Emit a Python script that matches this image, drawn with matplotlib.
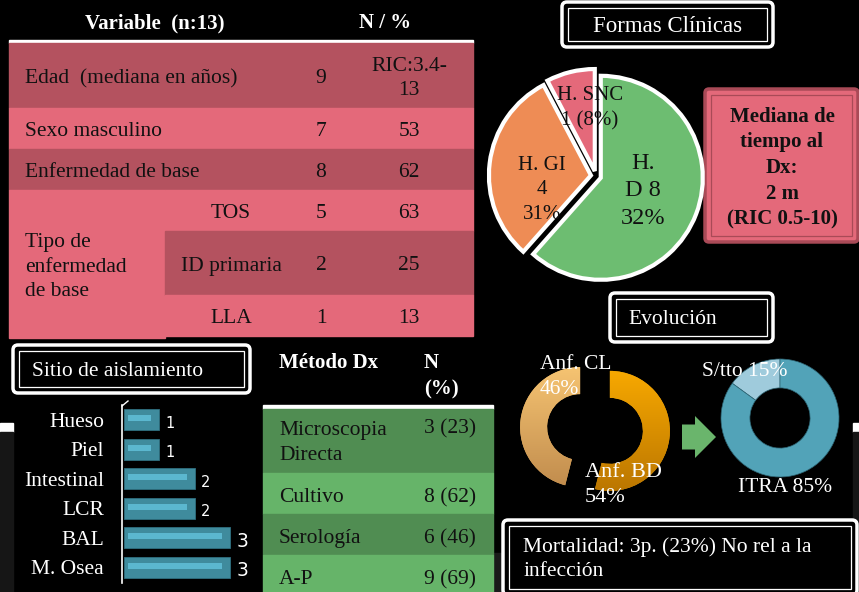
import numpy as np
import matplotlib.pyplot as plt
from matplotlib.patches import Rectangle, FancyBboxPatch, FancyArrow
from matplotlib.colors import LinearSegmentedColormap

plt.rcParams['font.family'] = ['Liberation Serif', 'DejaVu Serif']

# ---- data ----
var_labels = ['Edad  (mediana en años)', 'Sexo masculino', 'Enfermedad de base']
var_n = ['9', '7', '8']
var_pct = ['RIC:3.4-\n13', '53', '62']
base_group = 'Tipo de\nenfermedad\nde base'
base_labels = ['TOS', 'ID primaria', 'LLA']
base_n = [5, 2, 1]
base_pct = [63, 25, 13]

forms_labels = ['H.\nD 8\n32%', 'H. GI\n4\n31%', 'H. SNC\n1 (8%)']
forms_counts = [8, 4, 1]

sites = ['Hueso', 'Piel', 'Intestinal', 'LCR', 'BAL', 'M. Osea']
site_counts = [1, 1, 2, 2, 3, 3]

methods = ['Microscopia\nDirecta', 'Cultivo', 'Serología', 'A-P']
method_n = [3, 8, 6, 9]
method_pct = [23, 62, 46, 69]

induction = ['Anf. CL', 'Anf. BD']
induction_pct = [46, 54]
maintenance = ['S/tto', 'ITRA']
maintenance_pct = [15, 85]

# colours
rose_dark = '#b4525f'
rose_light = '#e4697a'
green_dark = '#508d52'
green_light = '#66b469'

W, H = 859, 592
fig = plt.figure(figsize=(W / 100, H / 100), dpi=100, facecolor='black')


def px_rect(x0, y0, x1, y1):
    return [x0 / W, 1 - y1 / H, (x1 - x0) / W, (y1 - y0) / H]


def pixel_axes(zorder=0):
    a = fig.add_axes([0, 0, 1, 1])
    a.set_xlim(0, W)
    a.set_ylim(H, 0)
    a.axis('off')
    a.patch.set_alpha(0)
    a.set_zorder(zorder)
    return a


ax = pixel_axes(0)
top = pixel_axes(10)


def label(x, y, s, dy=3, **kw):
    kw.setdefault('va', 'center')
    kw.setdefault('linespacing', 1.4)
    kw.setdefault('fontsize', 15.5)
    kw.setdefault('color', '#111')
    top.text(x, y + dy, s, **kw)


# background leftovers of the slide
ax.add_patch(Rectangle((0, 423), 13, 9, color='white'))
ax.add_patch(Rectangle((0, 432), 13, 160, color='#161616'))
ax.add_patch(Rectangle((853, 423), 6, 9, color='white'))
ax.add_patch(Rectangle((853, 432), 6, 160, color='#161616'))
ax.add_patch(Rectangle((493, 553), 10, 39, color='#1a1a1a'))


def double_box(x0, y0, x1, y1, face='black', edge='white', inset=6):
    ax.add_patch(FancyBboxPatch((x0, y0), x1 - x0, y1 - y0,
                                boxstyle='round,pad=0,rounding_size=5',
                                facecolor=face, edgecolor=edge, lw=2.5))
    ax.add_patch(Rectangle((x0 + inset, y0 + inset), x1 - x0 - 2 * inset,
                           y1 - y0 - 2 * inset, fill=False, edgecolor=edge, lw=0.9))


# ---- table 1 ----
tx0, tx1, tsub = 9, 473, 165
x_n, x_pct = 321, 409
label(155, 20, 'Variable  (n:13)', color='white', fontsize=15, fontweight='bold', ha='center')
label(385, 20, 'N / %', color='white', fontsize=15, fontweight='bold', ha='center')
ax.add_patch(Rectangle((tx0, 40), tx1 - tx0, 3, color='white'))
row_edges = [43, 108, 149, 190, 231, 295, 336]
for i, lab in enumerate(var_labels):
    y0, y1 = row_edges[i], row_edges[i + 1]
    ax.add_patch(Rectangle((tx0, y0), tx1 - tx0, y1 - y0,
                           color=rose_dark if i % 2 == 0 else rose_light))
    yc = (y0 + y1) / 2
    label(25, yc, lab)
    label(x_n, yc, var_n[i], ha='center')
    label(x_pct, yc, var_pct[i], ha='center')
ax.add_patch(Rectangle((tx0, row_edges[3]), tsub - tx0, row_edges[6] - row_edges[3] + 2,
                       color=rose_light))
for j, lab in enumerate(base_labels):
    y0, y1 = row_edges[3 + j], row_edges[4 + j]
    ax.add_patch(Rectangle((tsub, y0), tx1 - tsub, y1 - y0,
                           color=rose_dark if j == 1 else rose_light))
    yc = (y0 + y1) / 2
    label(231, yc, lab, ha='center')
    label(x_n, yc, str(base_n[j]), ha='center')
    label(x_pct, yc, str(base_pct[j]), ha='center')
label(25, 264, base_group, linespacing=1.38)

# ---- Formas Clinicas pie ----
double_box(562, 2, 773, 47)
label(668, 23, 'Formas Clínicas', color='white', fontsize=16.5, ha='center')

R = 102
cx, cy = 596, 176
pa = fig.add_axes(px_rect(cx - 1.3 * R, cy - 1.3 * R, cx + 1.3 * R, cy + 1.3 * R))
pa.set_zorder(5)
pa.pie(forms_counts, startangle=90, counterclock=False,
       colors=['#6dbd71', '#ee8c55', rose_light], explode=[0.05, 0.05, 0.05],
       wedgeprops=dict(edgecolor='white', linewidth=3))
pa.set_xlim(-1.3, 1.3)
pa.set_ylim(-1.3, 1.3)
pa.set_aspect('equal')
pa.axis('off')
label(643, 188, forms_labels[0], fontsize=17.5, ha='center', linespacing=1.42)
label(542, 187, forms_labels[1], fontsize=15, ha='center', linespacing=1.42)
label(590, 105, forms_labels[2], fontsize=15, ha='center', linespacing=1.45)

# ---- Mediana box ----
ax.add_patch(FancyBboxPatch((705, 89), 153, 153, boxstyle='round,pad=0,rounding_size=4',
                            facecolor=rose_light, edgecolor='#a94a57', lw=2.5))
ax.add_patch(Rectangle((711, 95), 141, 141, fill=False, edgecolor='#a94a57', lw=0.9))
label(782, 165, 'Mediana de\ntiempo al\nDx:\n2 m\n(RIC 0.5-10)', fontsize=15,
      fontweight='bold', ha='center', linespacing=1.37)

# ---- Evolucion title ----
double_box(610, 293, 773, 342)
label(628, 316, 'Evolución', color='white')

# ---- Sitio de aislamiento ----
double_box(13, 345, 250, 393)
label(32, 369, 'Sitio de aislamiento', color='white')

ba = fig.add_axes(px_rect(122, 405, 260, 582))
ba.set_zorder(5)
ba.patch.set_alpha(0)
yy = np.arange(len(sites))
vals = np.array(site_counts)
ba.barh(yy, vals, left=0, height=0.72, color='#3f8b9d', edgecolor='#2f6f80', lw=0.6)
ba.barh(yy - 0.05, vals - 0.35, left=0.12, height=0.2, color='#5bb7cf')
for y, v in zip(yy, vals):
    ba.text(v + 0.17, y + 0.12, str(v), color='white', family='DejaVu Sans',
            fontsize=10.5 if v < 3 else 13.5, va='center', ha='left')
ba.set_xlim(-0.056, 3.84)
ba.set_ylim(len(sites) - 0.5, -0.5)
ba.set_yticks(yy)
ba.set_yticklabels(sites, color='white', fontsize=15.5)
ba.tick_params(axis='y', length=0, pad=13)
ba.set_xticks([])
for s in ['top', 'right', 'bottom']:
    ba.spines[s].set_visible(False)
ba.spines['left'].set_color('white')
ba.spines['left'].set_linewidth(1.2)
ba.spines['left'].set_bounds(len(sites) - 0.45, -0.5)
ax.plot([122, 128], [406, 401], color='white', lw=1)

# ---- Metodo Dx table ----
mx0, mx1 = 263, 493
label(279, 360, 'Método Dx', color='white', fontsize=15, fontweight='bold')
label(424, 373, 'N\n(%)', color='white', fontsize=15, fontweight='bold', linespacing=1.45)
ax.add_patch(Rectangle((mx0, 405), mx1 - mx0, 4, color='white'))
m_edges = [409, 473, 514, 555, 596]
for i, lab in enumerate(methods):
    y0, y1 = m_edges[i], m_edges[i + 1]
    ax.add_patch(Rectangle((mx0, y0), mx1 - mx0, y1 - y0,
                           color=green_dark if i % 2 == 0 else green_light))
    ytxt = 440 if i == 0 else (y0 + y1) / 2 + 1
    label(279, ytxt, lab, linespacing=1.46)
    yv = 426 if i == 0 else ytxt
    label(424, yv, f'{method_n[i]} ({method_pct[i]})')

# ---- induction donut ----
R1 = 60
c1x, c1y = 595, 429
da = fig.add_axes(px_rect(c1x - 1.5 * R1, c1y - 1.5 * R1, c1x + 1.5 * R1, c1y + 1.5 * R1))
da.set_zorder(5)
wedges, _ = da.pie(induction_pct, startangle=90, counterclock=True,
                   explode=[0.25, 0.25], wedgeprops=dict(width=0.45, linewidth=0),
                   colors=['#e8b060', '#e09a10'])
grads = [('#f6c472', '#bf8a4c'), ('#f9aa00', '#bb7600')]
for w, (ctop, cbot) in zip(wedges, grads):
    cmap = LinearSegmentedColormap.from_list('g', [ctop, cbot])
    im = da.imshow(np.linspace(0, 1, 200).reshape(-1, 1), cmap=cmap, aspect='auto',
                   extent=[-1.5, 1.5, -1.05, 1.05], origin='upper', zorder=3)
    im.set_clip_path(w)
da.set_xlim(-1.5, 1.5)
da.set_ylim(-1.5, 1.5)
da.set_aspect('equal')
da.axis('off')
label(540, 374, f'{induction[0]}\n{induction_pct[0]}%', color='white', linespacing=1.46)
label(585, 482, f'{induction[1]}\n{induction_pct[1]}%', color='white', linespacing=1.46,
      fontsize=16)

# arrow
ax.add_patch(FancyArrow(682, 437, 34, 0, width=25, head_width=42, head_length=21,
                        length_includes_head=True, color='#6ab56c', lw=0))

# ---- maintenance donut ----
R2 = 59
c2x, c2y = 780, 418
db = fig.add_axes(px_rect(c2x - 1.2 * R2, c2y - 1.2 * R2, c2x + 1.2 * R2, c2y + 1.2 * R2))
db.set_zorder(5)
db.pie(maintenance_pct, startangle=90, counterclock=True,
       colors=['#9fcbdc', '#52a3b8'],
       wedgeprops=dict(width=0.49, edgecolor='#2d6473', linewidth=0.5))
db.set_xlim(-1.2, 1.2)
db.set_ylim(-1.2, 1.2)
db.set_aspect('equal')
db.axis('off')
label(702, 369, f'{maintenance[0]} {maintenance_pct[0]}%', color='white')
label(738, 485, f'{maintenance[1]} {maintenance_pct[1]}%', color='white')

# ---- mortality box ----
double_box(503, 520, 857, 595)
label(523, 556, 'Mortalidad: 3p. (23%) No rel a la\ninfección', color='white',
      linespacing=1.36)

fig.savefig('out.png', dpi=100, facecolor='black')
